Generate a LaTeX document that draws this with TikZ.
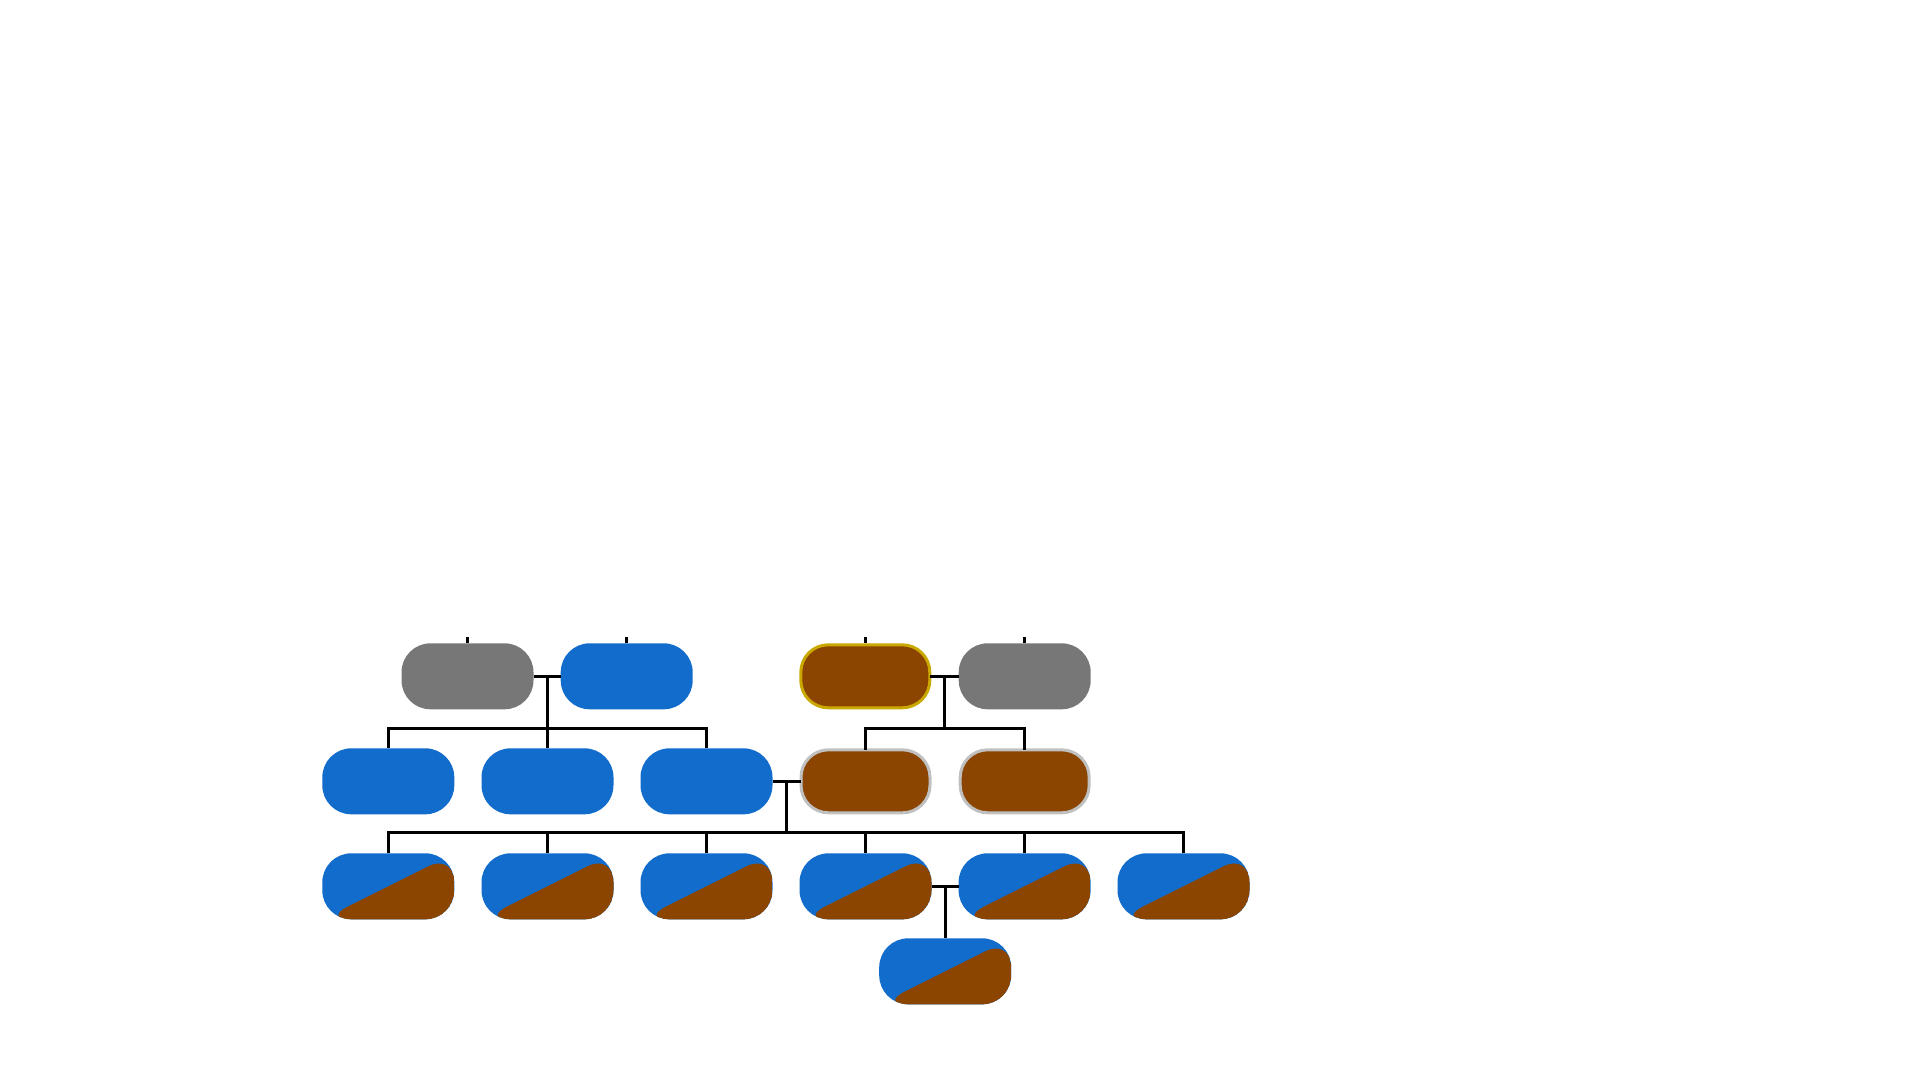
\documentclass[tikz,border=0pt]{standalone}
\usetikzlibrary{calc}
\definecolor{cblue}{HTML}{116CCB}
\definecolor{cbrown}{HTML}{8B4500}
\definecolor{cgray}{HTML}{777777}
\definecolor{cgold}{HTML}{C9A800}
\definecolor{cborder}{HTML}{C0C0C0}
\begin{document}
\begin{tikzpicture}[x=1pt,y=-1pt,
  person/.style={rounded corners=29pt, minimum width=132pt, minimum height=66pt,
    inner sep=0pt, outer sep=0pt},
  grayp/.style={person, fill=cgray},
  bluep/.style={person, fill=cblue},
  brownp/.style={person, fill=cbrown},
  goldp/.style={person, fill=cbrown, draw=cgold, line width=3pt,
    minimum width=129pt, minimum height=63pt, rounded corners=27.5pt},
  greyrimp/.style={person, fill=cbrown, draw=cborder, line width=3pt,
    minimum width=129pt, minimum height=63pt, rounded corners=27.5pt},
  mixp/.style={person, fill=cblue,
    path picture={\fill[cbrown] (path picture bounding box.south west) --
      (path picture bounding box.north east) --
      (path picture bounding box.south east) -- cycle;}},
  link/.style={line width=3pt, black, line join=miter}]
\useasboundingbox (0,0) rectangle (1920,1080);

% row 1
\node[grayp]  (g1) at (467.5,676.3) {};
\node[bluep]  (b1) at (626.7,676.3) {};
\node[goldp]  (r1) at (865.3,676.3) {};
\node[grayp]  (g2) at (1024.7,676.3) {};
% row 2
\node[bluep] (b2) at (388.3,781.3) {};
\node[bluep] (b3) at (547.5,781.3) {};
\node[bluep] (b4) at (706.5,781.3) {};
\node[greyrimp] (r2) at (865.5,781.3) {};
\node[greyrimp] (r3) at (1024.7,781.3) {};
% row 3
\node[mixp] (m1) at (388.3,886.3) {};
\node[mixp] (m2) at (547.5,886.3) {};
\node[mixp] (m3) at (706.5,886.3) {};
\node[mixp] (m4) at (865.5,886.3) {};
\node[mixp] (m5) at (1024.6,886.3) {};
\node[mixp] (m6) at (1183.5,886.3) {};
% row 4
\node[mixp] (m7) at (945.2,971.3) {};

% stubs above row 1
\foreach \n in {g1,b1,g2} \draw[link] (\n.north) -- ++(0,-6.3);
\draw[link] ([yshift=1.5pt]r1.north) -- ++(0,-6.3);

% couple 1
\draw[link] (g1.east) -- (b1.west);
\coordinate (u1) at ($(g1.east)!0.5!(b1.west)$);
\coordinate (j1) at ($(u1)+(0,52)$);
\draw[link] (u1) -- (j1);
\draw[link] (b2.north) -- (b2.north |- j1) -- (b4.north |- j1) -- (b4.north);
\draw[link] (b3.north) -- (b3.north |- j1);

% couple 2
\draw[link] (r1.east) -- (g2.west);
\coordinate (u2) at ($(r1.east)!0.5!(g2.west)$);
\coordinate (j2) at ($(u2)+(0,52)$);
\draw[link] (u2) -- (j2);
\draw[link] (r2.north) -- (r2.north |- j2) -- (r3.north |- j2) -- (r3.north);

% couple 3
\draw[link] (b4.east) -- (r2.west);
\coordinate (u3) at ($(b4.east)!0.5!(r2.west)$);
\coordinate (j3) at ($(u3)+(0,51)$);
\draw[link] (u3) -- (j3);
\draw[link] (m1.north) -- (m1.north |- j3) -- (m6.north |- j3) -- (m6.north);
\foreach \n in {m2,m3,m4,m5} \draw[link] (\n.north) -- (\n.north |- j3);

% couple 4
\draw[link] (m4.east) -- (m5.west);
\coordinate (u4) at ($(m4.east)!0.5!(m5.west)$);
\draw[link] (u4) -- (u4 |- m7.north);
\end{tikzpicture}
\end{document}
